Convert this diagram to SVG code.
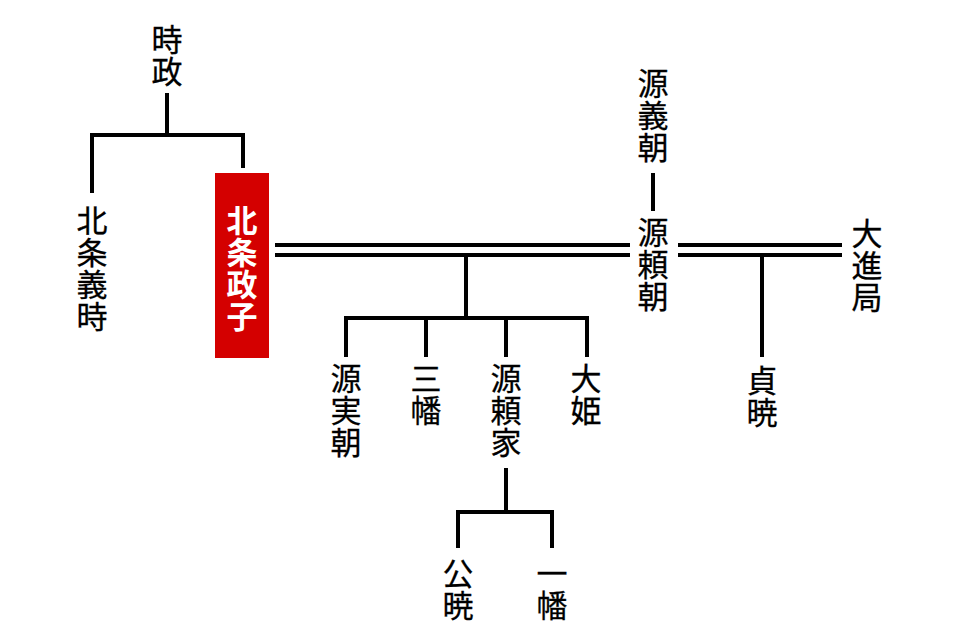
<svg xmlns="http://www.w3.org/2000/svg" width="960" height="642" viewBox="0 0 960 642">
<style>
.t{font-family:"Noto Sans CJK JP","Noto Sans CJK SC",sans-serif;font-size:31px;font-weight:normal;fill:#000;writing-mode:vertical-rl;letter-spacing:1px;stroke:#000;stroke-width:0.3px}
.w{fill:#fff;stroke:none;font-weight:bold}
.c{fill:none;stroke:#000;stroke-width:4}
</style>
<rect width="960" height="642" fill="#fff"/>
<g id="connectors" class="c">
<path d="M167 93V135M92 193V135H243V168"/>
<path d="M275 245H630M275 255H630M466 255V318M346 357V318H587V357M426 318V357M506 318V357"/>
<path d="M653 173V211"/>
<path d="M678 245H842M678 255H842M762 255V357"/>
<path d="M506 468V512M458 548V512H552V548"/>
</g>
<g id="tokimasa"><text class="t" x="167" y="24">時政</text></g>
<g id="yoshitoki"><text class="t" x="92" y="205">北条義時</text></g>
<g id="masako"><rect x="215" y="173" width="54" height="185" fill="#d40000"/><text class="t w" x="242" y="205">北条政子</text></g>
<g id="yoshitomo"><text class="t" x="653" y="68">源義朝</text></g>
<g id="yoritomo"><text class="t" x="653" y="217">源頼朝</text></g>
<g id="daishinnotsubone"><text class="t" x="867" y="218">大進局</text></g>
<g id="sanetomo"><text class="t" x="346" y="363">源実朝</text></g>
<g id="sanman"><text class="t" x="426" y="363">三幡</text></g>
<g id="yoriie"><text class="t" x="506" y="363">源頼家</text></g>
<g id="ohime"><text class="t" x="586" y="363">大姫</text></g>
<g id="teigyo"><text class="t" x="762" y="365">貞暁</text></g>
<g id="kugyo"><text class="t" x="458" y="558">公暁</text></g>
<g id="ichiman"><text class="t" x="552" y="558">一幡</text></g>
</svg>
